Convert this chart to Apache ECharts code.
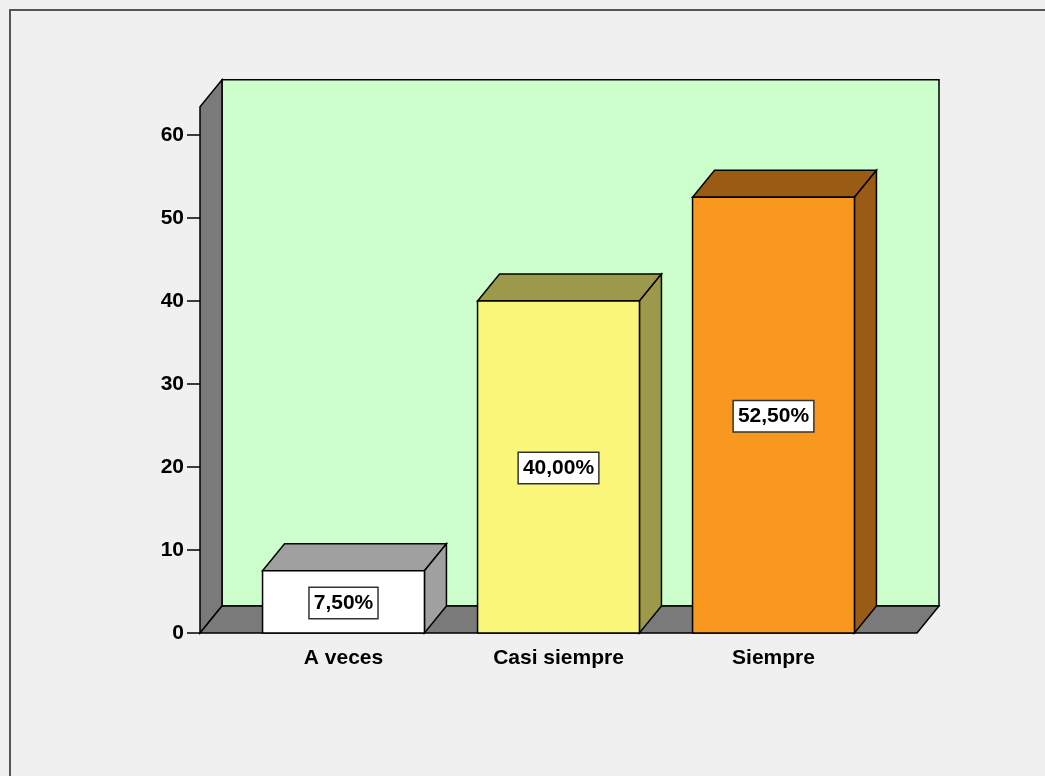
<!DOCTYPE html>
<html>
<head>
<meta charset="utf-8">
<title>Frecuencia</title>
<script src="https://cdn.jsdelivr.net/npm/echarts@6/dist/echarts.min.js"></script>
<style>
  html, body { margin: 0; padding: 0; background: #f0f0f0; }
  #chart { width: 1045px; height: 776px; }
</style>
</head>
<body>
<div id="chart"></div>
<script>
  // datos
  const categories = ['A veces', 'Casi siempre', 'Siempre'];
  const percentages = [7.5, 40, 52.5];
  const labels = ['7,50%', '40,00%', '52,50%'];
  const yTicks = { min: 0, max: 60, interval: 10 };

  const frontColors = ['#ffffff', '#faf67a', '#f8981e'];
  const shadeColors = ['#a0a0a0', '#9c9a4a', '#9a5c14'];

  // 3d look
  const DX = 22;
  const DY = -27;
  const SIDE_PAD = 36;
  const WALL_TOP = 63.4;
  const FONT = 'Liberation Sans, Arial, sans-serif';

  let myChart = echarts.init(document.getElementById('chart'));

  function renderFrame(params, api) {
    let cs = params.coordSys;
    let y0 = api.coord([0, 0])[1];
    let yTop = api.coord([0, WALL_TOP])[1];
    let xl = cs.x - SIDE_PAD;
    let xr = cs.x + cs.width + SIDE_PAD;
    let line = { stroke: '#000', lineWidth: 1.5 };
    return {
      type: 'group',
      children: [
        {
          type: 'rect',
          shape: { x: xl + DX, y: yTop + DY, width: xr - xl, height: y0 - yTop },
          style: Object.assign({ fill: '#ccffcc' }, line)
        },
        {
          type: 'polygon',
          shape: { points: [[xl, y0], [xl + DX, y0 + DY], [xl + DX, yTop + DY], [xl, yTop]] },
          style: Object.assign({ fill: '#7a7a7a' }, line)
        },
        {
          type: 'polygon',
          shape: { points: [[xl, y0], [xr, y0], [xr + DX, y0 + DY], [xl + DX, y0 + DY]] },
          style: Object.assign({ fill: '#7a7a7a' }, line)
        }
      ]
    };
  }

  function renderBar(params, api) {
    let i = api.value(0);
    let base = api.coord([i, 0]);
    let top = api.coord([i, api.value(1)]);
    let bw = api.size([1, 0])[0] * 0.753;
    let x0 = base[0] - bw / 2;
    let x1 = base[0] + bw / 2;
    let line = { stroke: '#000', lineWidth: 1.5 };
    return {
      type: 'group',
      children: [
        {
          type: 'polygon',
          shape: { points: [[x0, top[1]], [x0 + DX, top[1] + DY], [x1 + DX, top[1] + DY], [x1, top[1]]] },
          style: Object.assign({ fill: shadeColors[i] }, line)
        },
        {
          type: 'polygon',
          shape: { points: [[x1, top[1]], [x1 + DX, top[1] + DY], [x1 + DX, base[1] + DY], [x1, base[1]]] },
          style: Object.assign({ fill: shadeColors[i] }, line)
        },
        {
          type: 'rect',
          shape: { x: x0, y: top[1], width: bw, height: base[1] - top[1] },
          style: Object.assign({ fill: frontColors[i] }, line)
        },
        {
          type: 'text',
          x: base[0],
          y: (base[1] + top[1]) / 2 + 1,
          style: {
            text: labels[i],
            align: 'center',
            verticalAlign: 'middle',
            fontFamily: FONT,
            fontWeight: 'bold',
            fontSize: 21,
            fill: '#000',
            backgroundColor: '#fff',
            borderColor: '#333',
            borderWidth: 1.5,
            padding: [5, 4, 4, 4]
          }
        }
      ]
    };
  }

  myChart.setOption({
    backgroundColor: '#f0f0f0',
    animation: false,
    graphic: [
      {
        type: 'rect',
        shape: { x: 10, y: 10, width: 1100, height: 1000 },
        style: { fill: 'none', stroke: '#555', lineWidth: 2 },
        z: 100
      }
    ],
    grid: {
      left: 236,
      right: 164,
      top: 135,
      bottom: 143
    },
    xAxis: {
      type: 'category',
      data: categories,
      boundaryGap: true,
      axisLine: { show: false },
      axisTick: {
        alignWithLabel: true,
        length: 14,
        lineStyle: { color: '#000', width: 1.5 }
      },
      axisLabel: {
        margin: 15,
        color: '#000',
        fontFamily: FONT,
        fontWeight: 'bold',
        fontSize: 21
      },
      z: 10
    },
    yAxis: {
      type: 'value',
      min: yTicks.min,
      max: yTicks.max,
      interval: yTicks.interval,
      offset: SIDE_PAD,
      splitLine: { show: false },
      axisLine: { show: false },
      axisTick: {
        show: true,
        length: 13,
        lineStyle: { color: '#000', width: 1.5 }
      },
      axisLabel: {
        margin: 16,
        color: '#000',
        fontFamily: FONT,
        fontWeight: 'bold',
        fontSize: 21
      }
    },
    series: [
      {
        type: 'custom',
        renderItem: renderFrame,
        data: [[0, 0]],
        silent: true,
        clip: false,
        z: 1
      },
      {
        type: 'custom',
        renderItem: renderBar,
        data: percentages.map((v, i) => [i, v]),
        clip: false,
        z: 2
      }
    ]
  });

  window.addEventListener('resize', () => {
    myChart.resize();
  });
</script>
</body>
</html>
